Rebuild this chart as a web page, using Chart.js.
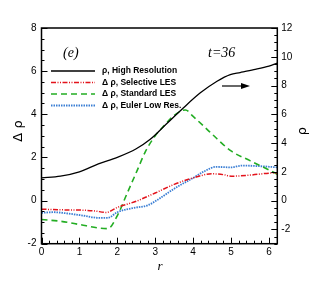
<!DOCTYPE html>
<html>
<head>
<meta charset="utf-8">
<script src="https://cdn.jsdelivr.net/npm/chart.js@4.4.1/dist/chart.umd.min.js"></script>
<style>
  html, body { margin: 0; padding: 0; background: #fff; }
</style>
</head>
<body>
<canvas id="chart" width="316" height="281"></canvas>
<script>
// values (r, left axis = delta rho, right axis = rho)
const rHighRes = [0, 0.5, 1.0, 1.5, 2.0, 2.5, 2.86, 3.3, 3.74, 4.19, 4.63, 4.98, 5.24, 5.6, 6.0, 6.22];
const highRes = [1.58, 1.7, 2.0, 2.55, 3.0, 3.6, 4.24, 5.34, 6.44, 7.49, 8.3, 8.76, 8.9, 9.1, 9.35, 9.55];

const rSelective = [0, 0.5, 1.0, 1.4, 1.7, 2.0, 2.5, 3.0, 3.5, 4.0, 4.5, 4.8, 5.0, 5.5, 6.0, 6.22];
const selectiveLes = [-0.4, -0.43, -0.44, -0.48, -0.55, -0.32, -0.03, 0.35, 0.75, 1.05, 1.24, 1.2, 1.13, 1.18, 1.27, 1.28];

const rStandard = [0, 0.5, 1.0, 1.5, 1.75, 2.0, 2.25, 2.5, 2.75, 3.0, 3.25, 3.5, 3.8, 4.0, 4.25, 4.5, 5.0, 5.5, 6.0, 6.22];
const standardLes = [-0.88, -0.96, -1.11, -1.27, -1.3, -0.7, 0.3, 1.3, 2.3, 3.0, 3.5, 3.95, 4.2, 3.9, 3.5, 3.08, 2.3, 1.85, 1.42, 1.22];

const rEuler = [0, 0.3, 0.7, 1.1, 1.5, 1.75, 2.0, 2.4, 2.8, 3.1, 3.5, 4.0, 4.3, 4.6, 5.0, 5.3, 5.8, 6.22];
const eulerLowRes = [-0.57, -0.54, -0.6, -0.7, -0.8, -0.8, -0.54, -0.35, -0.22, 0.08, 0.55, 1.05, 1.36, 1.56, 1.54, 1.62, 1.59, 1.54];

const xTicks = [0, 1, 2, 3, 4, 5, 6];

const pairs = (xs, ys) => xs.map((x, i) => ({ x: x, y: ys[i] }));

// frame, inward ticks, legend and labels
const decorPlugin = {
  id: 'decor',
  afterDraw(chart) {
    const ctx = chart.ctx;
    const a = chart.chartArea;
    const sx = chart.scales.x, yl = chart.scales.yLeft, yr = chart.scales.yRight;
    ctx.save();
    ctx.strokeStyle = '#000';
    ctx.lineWidth = 1.5;
    ctx.strokeRect(a.left, a.top, a.right - a.left, a.bottom - a.top);

    ctx.lineWidth = 1;
    ctx.beginPath();
    // x ticks
    for (let v = 0; v <= 6.22; v += 0.2) {
      const px = Math.round(sx.getPixelForValue(v)) + 0.5;
      const major = Math.abs(v - Math.round(v)) < 1e-6;
      ctx.moveTo(px, a.bottom);
      ctx.lineTo(px, a.bottom - (major ? 6 : 3));
    }
    // left ticks
    for (let v = -2; v <= 8; v += 0.5) {
      const py = Math.round(yl.getPixelForValue(v)) + 0.5;
      const major = Math.abs(v / 2 - Math.round(v / 2)) < 1e-6;
      ctx.moveTo(a.left, py);
      ctx.lineTo(a.left + (major ? 6 : 3), py);
    }
    // right ticks
    for (let v = -3; v <= 12; v += 0.5) {
      const py = Math.round(yr.getPixelForValue(v)) + 0.5;
      const major = Math.abs(v / 2 - Math.round(v / 2)) < 1e-6;
      ctx.moveTo(a.right, py);
      ctx.lineTo(a.right - (major ? 6 : 3), py);
    }
    ctx.stroke();

    // legend
    ctx.font = 'bold 8.5px "Liberation Sans", Arial, sans-serif';
    ctx.textBaseline = 'middle';
    ctx.fillStyle = '#000';
    const rows = [71, 82.5, 94, 105.5];
    chart.data.datasets.forEach((ds, i) => {
      const y = rows[i];
      ctx.save();
      ctx.strokeStyle = ds.borderColor;
      ctx.lineWidth = ds.borderWidth;
      ctx.setLineDash(ds.borderDash || []);
      ctx.beginPath();
      ctx.moveTo(51, y);
      ctx.lineTo(95, y);
      ctx.stroke();
      ctx.restore();
      ctx.fillText(ds.label, 102, y);
    });

    // panel labels
    ctx.font = 'italic 14px "Liberation Serif", "Times New Roman", serif';
    ctx.textAlign = 'left';
    ctx.fillText('(e)', 63, 53);
    ctx.fillText('t=36', 208, 53);

    // arrow pointing at the right axis
    ctx.beginPath();
    ctx.moveTo(222, 86);
    ctx.lineTo(243, 86);
    ctx.lineWidth = 1.2;
    ctx.stroke();
    ctx.beginPath();
    ctx.moveTo(250, 86);
    ctx.lineTo(241, 83);
    ctx.lineTo(241, 89);
    ctx.closePath();
    ctx.fill();

    // axis titles
    ctx.textAlign = 'center';
    ctx.font = 'italic 13px "Liberation Serif", "Times New Roman", serif';
    ctx.fillText('r', 160, 267);
    ctx.font = '13px "DejaVu Sans", sans-serif';
    ctx.save();
    ctx.translate(19, 131);
    ctx.rotate(-Math.PI / 2);
    ctx.fillText('Δ ρ', 0, 0);
    ctx.restore();
    ctx.save();
    ctx.translate(303, 131);
    ctx.rotate(-Math.PI / 2);
    ctx.fillText('ρ', 0, 0);
    ctx.restore();
    ctx.restore();
  }
};

const tickFont = { family: '"Liberation Sans", Arial, sans-serif', size: 10 };

const chart = new Chart(document.getElementById('chart'), {
  type: 'line',
  data: {
    datasets: [
      {
        label: 'ρ, High Resolution',
        data: pairs(rHighRes, highRes),
        yAxisID: 'yRight',
        borderColor: '#000000',
        borderWidth: 1.3,
        borderDash: [],
      },
      {
        label: 'Δ ρ, Selective LES',
        data: pairs(rSelective, selectiveLes),
        yAxisID: 'yLeft',
        borderColor: '#e3131b',
        borderWidth: 1.5,
        borderDash: [5, 1.5, 1, 1.5, 1, 1.5],
      },
      {
        label: 'Δ ρ, Standard LES',
        data: pairs(rStandard, standardLes),
        yAxisID: 'yLeft',
        borderColor: '#23ad23',
        borderWidth: 1.6,
        borderDash: [6, 4],
      },
      {
        label: 'Δ ρ, Euler Low Res.',
        data: pairs(rEuler, eulerLowRes),
        yAxisID: 'yLeft',
        borderColor: '#3a7ed4',
        borderWidth: 1.8,
        borderDash: [1.5, 1],
      },
    ],
  },
  options: {
    responsive: false,
    animation: false,
    devicePixelRatio: 1,
    layout: { padding: { top: 28, left: 0, right: 0, bottom: 0 } },
    elements: {
      point: { radius: 0 },
      line: { cubicInterpolationMode: 'monotone', fill: false },
    },
    plugins: {
      legend: { display: false },
      tooltip: { enabled: false },
    },
    scales: {
      x: {
        type: 'linear',
        min: 0,
        max: 6.22,
        afterFit: s => { s.height = 37.3; },
        afterBuildTicks: s => { s.ticks = xTicks.map(v => ({ value: v })); },
        grid: { display: false, drawTicks: false },
        border: { display: false },
        ticks: { font: tickFont, color: '#000', padding: 3, maxRotation: 0, callback: v => String(v) },
      },
      yLeft: {
        type: 'linear',
        position: 'left',
        min: -2,
        max: 8,
        afterFit: s => { s.width = 41.5; },
        grid: { display: false, drawTicks: false },
        border: { display: false },
        ticks: { font: tickFont, color: '#000', padding: 5, stepSize: 2, includeBounds: false },
      },
      yRight: {
        type: 'linear',
        position: 'right',
        min: -3,
        max: 12,
        afterFit: s => { s.width = 38.7; },
        grid: { display: false, drawTicks: false },
        border: { display: false },
        ticks: { font: tickFont, color: '#000', padding: 4, stepSize: 2, includeBounds: false },
      },
    },
  },
  plugins: [decorPlugin],
});
</script>
</body>
</html>
